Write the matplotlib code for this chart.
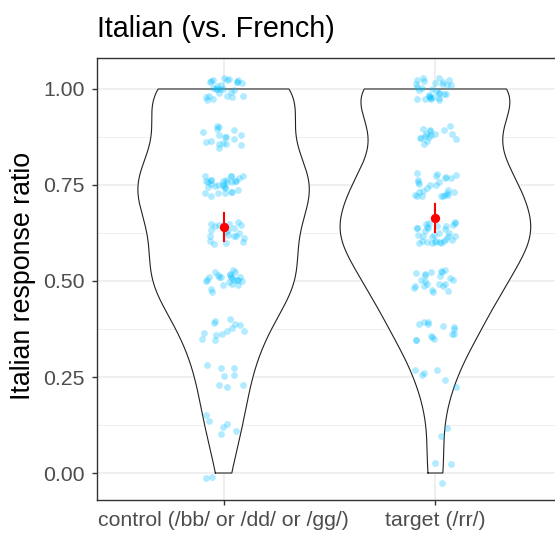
import numpy as np
import matplotlib
matplotlib.use("Agg")
import matplotlib.pyplot as plt

plt.rcParams['font.family'] = ['Liberation Sans', 'DejaVu Sans']

# response levels and how many participants/items sit at each level
levels = [0.0, 0.125, 0.25, 0.375, 0.5, 0.625, 0.75, 0.875, 1.0]
control_counts = [2, 6, 8, 13, 24, 20, 30, 17, 27]
target_counts = [3, 2, 6, 14, 22, 32, 26, 16, 30]

conditions = ['control (/bb/ or /dd/ or /gg/)', 'target (/rr/)']
means = [0.641, 0.664]
ci = [0.037, 0.036]


def nrd0(x):
    q75, q25 = np.percentile(x, [75, 25])
    lo = min(np.std(x, ddof=1), (q75 - q25) / 1.34)
    return 0.9 * lo * len(x) ** -0.2


def kde(x, grid):
    bw = nrd0(x)
    d = np.exp(-0.5 * ((grid[:, None] - x[None, :]) / bw) ** 2).sum(axis=1)
    return d / (len(x) * bw * np.sqrt(2 * np.pi))


groups = [np.repeat(levels, control_counts), np.repeat(levels, target_counts)]

fig = plt.figure(figsize=(5.55, 5.33), dpi=100)
ax = fig.add_axes([96.5 / 555, 33 / 533, 466 / 555, 442 / 533])

dens = []
grids = []
for g in groups:
    grid = np.linspace(g.min(), g.max(), 512)
    grids.append(grid)
    dens.append(kde(g, grid))
dmax = max(d.max() for d in dens)

rng = np.random.default_rng(3)
for i, g in enumerate(groups):
    pos = i + 1
    w = 0.45 * dens[i] / dmax
    xs = np.concatenate([pos - w, (pos + w)[::-1], [pos - w[0]]])
    ys = np.concatenate([grids[i], grids[i][::-1], [grids[i][0]]])
    ax.fill(xs, ys, color='white', zorder=2)
    ax.plot(xs, ys, color='#222222', lw=0.8, zorder=3)
    # jitter like geom_jitter
    jx = pos + rng.uniform(-0.1, 0.1, len(g))
    jy = g + rng.uniform(-0.03, 0.03, len(g))
    ax.scatter(jx, jy, s=24, color='#00BFFF', alpha=0.3, linewidths=0, zorder=4)
    ax.plot([pos, pos], [means[i] - ci[i], means[i] + ci[i]], color='red', lw=1.5, zorder=5)
    ax.scatter([pos], [means[i]], s=45, color='red', zorder=6, linewidths=0)

ax.set_xlim(0.4, 2.6)
ax.set_ylim(-0.0703, 1.0807)
ax.set_yticks([0, 0.25, 0.5, 0.75, 1.0])
ax.set_yticklabels(['0.00', '0.25', '0.50', '0.75', '1.00'])
ax.set_yticks([0.125, 0.375, 0.625, 0.875], minor=True)
ax.set_xticks([1, 2])
ax.set_xticklabels(conditions)
ax.grid(True, which='major', color='#EBEBEB', lw=1.1, zorder=0)
ax.grid(True, which='minor', axis='y', color='#EBEBEB', lw=0.55, zorder=0)
ax.set_axisbelow(True)
ax.tick_params(which='major', length=3.7, width=1.0, color='#333333', labelsize=15.3,
               labelcolor='#4D4D4D', pad=4.5)
ax.tick_params(which='minor', length=0)
for s in ax.spines.values():
    s.set_color('#333333')
    s.set_linewidth(1.0)

fig.text(23 / 555, 1 - 276 / 533, 'Italian response ratio', fontsize=19.3,
         rotation=90, ha='center', va='center')
fig.text(97 / 555, 1 - 37 / 533, 'Italian (vs. French)', fontsize=20.7,
         va='baseline', ha='left')

fig.savefig('out.png', dpi=100)
